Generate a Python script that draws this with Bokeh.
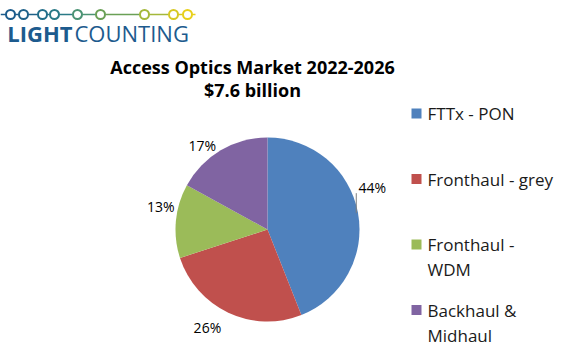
import math
from bokeh.plotting import figure
from bokeh.models import Range1d
from bokeh.core.properties import value
from bokeh.embed import file_html
from bokeh.resources import INLINE

# ---- data ----
categories = ["FTTx - PON", "Fronthaul - grey", "Fronthaul - WDM", "Backhaul & Midhaul"]
shares = [44, 26, 13, 17]
legend_labels = ["FTTx - PON", "Fronthaul - grey", "Fronthaul -\nWDM", "Backhaul &\nMidhaul"]
slice_colors = ["#4f81bd", "#c0504d", "#9bbb59", "#8064a2"]
title_lines = ["Access Optics Market 2022-2026", "$7.6 billion"]
logo_words = ["LIGHT", "COUNTING"]

# ---- layout / style ----
W, H = 561, 356
CX, CY, R = 267, 127, 92
label_dist = [113, 115, 109, 106]
label_shift_deg = [11.2, -6.3, -6.6, 7.4]
FONT = "Open Sans"

p = figure(width=W, height=H, x_range=Range1d(0, W), y_range=Range1d(0, H),
           output_backend="svg", toolbar_location=None, min_border=0)
p.axis.visible = False
p.grid.visible = False
p.outline_line_color = None
p.background_fill_color = "white"
p.border_fill_color = "white"

# ---- pie ----
total = float(sum(shares))
starts, ends, mids = [], [], []
cum = 0.0
for s in shares:
    a0 = math.pi / 2 - 2 * math.pi * cum / total
    a1 = math.pi / 2 - 2 * math.pi * (cum + s) / total
    starts.append(a0)
    ends.append(a1)
    mids.append((a0 + a1) / 2)
    cum += s

p.wedge(x=CX, y=CY, radius=R, start_angle=starts, end_angle=ends,
        direction="clock", fill_color=slice_colors, line_color=None)

lx, ly, lt = [], [], []
for i, s in enumerate(shares):
    th = mids[i] + math.radians(label_shift_deg[i])
    lx.append(CX + label_dist[i] * math.cos(th))
    ly.append(CY + label_dist[i] * math.sin(th))
    lt.append(f"{s}%")
p.text(x=lx, y=ly, text=lt, text_align="center", text_baseline="middle",
       text_font=value(FONT), text_font_size="14px", text_color="#000000")

# leader line for the displaced first label
p.segment(x0=[lx[0] - 16], y0=[ly[0] - 6], x1=[lx[0] - 16], y1=[ly[0] - 26],
          line_color="#7f7f7f", line_width=1)

# ---- title ----
p.text(x=[252, 252], y=[290, 267], text=title_lines, text_align="center",
       text_baseline="middle", text_font=value(FONT), text_font_size="18px",
       text_font_style="bold", text_color="#000000")

# ---- legend ----
leg_y0, leg_step, line_step = 243, 65.5, 25
sq_x, sq_y, tx, ty, tt = [], [], [], [], []
for i, lab in enumerate(legend_labels):
    y = leg_y0 - i * leg_step
    sq_x.append(416)
    sq_y.append(y)
    for j, line in enumerate(lab.split("\n")):
        tx.append(427)
        ty.append(y - j * line_step)
        tt.append(line)
p.rect(x=sq_x, y=sq_y, width=10, height=10, fill_color=slice_colors, line_color=None)
p.text(x=tx, y=ty, text=tt, text_align="left", text_baseline="middle",
       text_font=value(FONT), text_font_size="17px", text_color="#1a1a1a")

# ---- logo ----
logo_x = [10, 23, 42, 54, 77, 100, 144, 173, 187]
logo_colors = ["#1c5c8c", "#1f6189", "#226e8a", "#2a7a86", "#4b9374",
               "#6aa056", "#a4b83a", "#d6c824", "#e8d01b"]
logo_y = 342
seg_x0 = [0] + logo_x
seg_x1 = logo_x + [195]
seg_c = [logo_colors[0]] + logo_colors
p.segment(x0=seg_x0, y0=[logo_y] * len(seg_x0), x1=seg_x1, y1=[logo_y] * len(seg_x1),
          line_color=seg_c, line_width=1.5)
p.scatter(x=logo_x, y=[logo_y] * len(logo_x), size=9, marker="circle",
          fill_color="white", line_color=logo_colors, line_width=2)
p.text(x=[72], y=[324], text=[logo_words[0]], text_align="right", text_baseline="middle",
       text_font=value(FONT), text_font_size="22px", text_font_style="bold", text_color="#1d5b8e")
p.text(x=[74], y=[324], text=[logo_words[1]], text_align="left", text_baseline="middle",
       text_font=value(FONT), text_font_size="22px", text_color="#1d5b8e")

open("out.html", "w").write(file_html(p, INLINE))
